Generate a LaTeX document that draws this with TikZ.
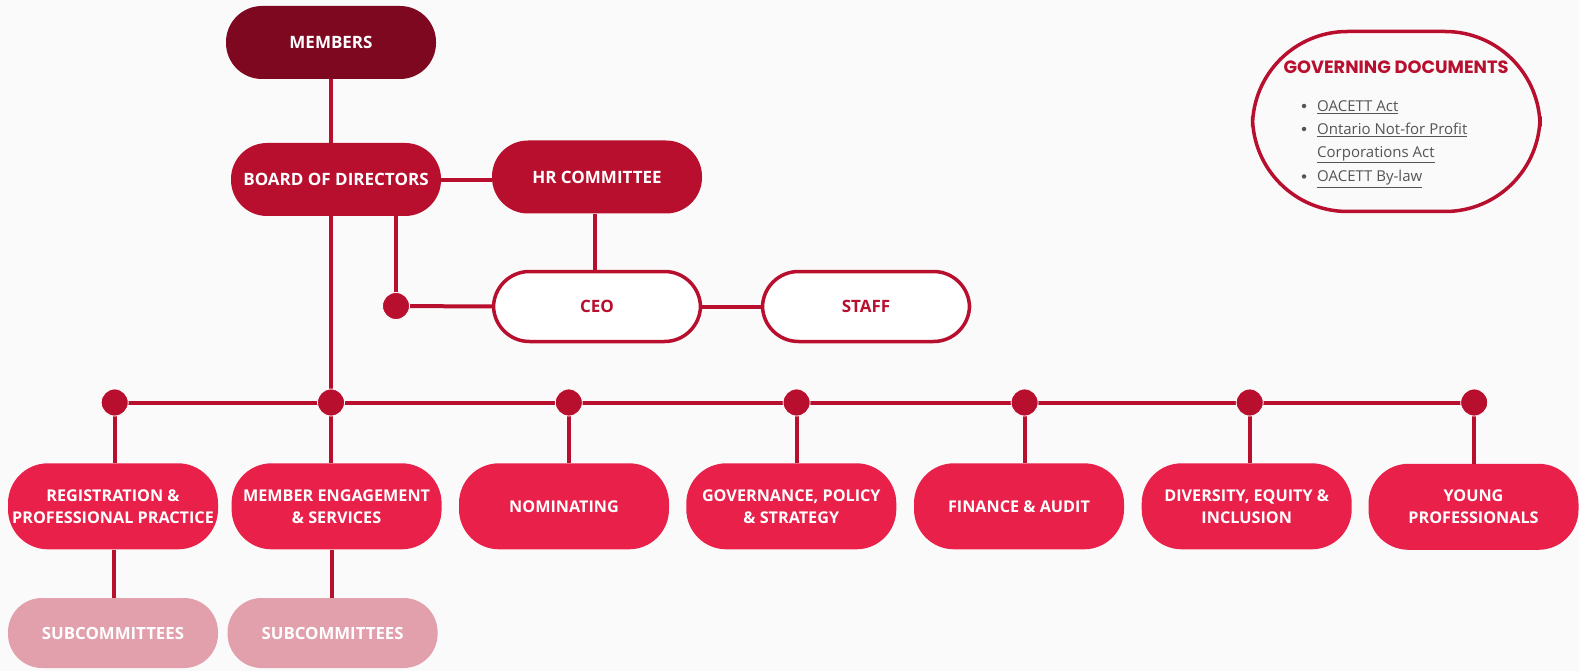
\documentclass[tikz,border=0pt]{standalone}
\usepackage{fontspec}
\setmainfont{Open Sans}
\newfontfamily\headfont{Poppins}
\definecolor{cCrim}{HTML}{B80F2F}
\definecolor{cMaroon}{HTML}{7D0820}
\definecolor{cRose}{HTML}{E8204A}
\definecolor{cSub}{HTML}{E2A0AC}
\definecolor{cGray}{HTML}{555555}
\definecolor{cBg}{HTML}{FAFAFA}
\begin{document}
\begin{tikzpicture}[x=1pt,y=-1pt,
  topbox/.style={rectangle, rounded corners=36pt, minimum width=210pt, minimum height=73pt,
    inner sep=0pt, align=center, text=white, font=\bfseries\fontsize{17}{20}\selectfont},
  outbox/.style={topbox, fill=white, draw=cCrim, line width=3.5pt, text=cCrim, minimum width=207pt, minimum height=70pt},
  combox/.style={rectangle, rounded corners=40pt, minimum width=210pt, minimum height=86pt,
    inner sep=0pt, align=center, fill=cRose, text=white, font=\bfseries\fontsize{16.2}{22}\selectfont},
  subbox/.style={combox, fill=cSub, minimum height=70pt, rounded corners=34pt, font=\bfseries\fontsize{16.8}{22}\selectfont},
  conn/.style={draw=cCrim, line width=4pt},
  dot/.style={circle, fill=cCrim, draw=white, line width=0.8pt, minimum size=27pt, inner sep=0pt},
  docitem/.style={anchor=base west, inner sep=0pt, text=cGray, font=\fontsize{15}{18}\selectfont}
]
\fill[cBg] (0,0) rectangle (1579,671);
\useasboundingbox (0,0) rectangle (1579,671);

% top nodes
\node[topbox, fill=cMaroon] (members) at (331,42.5) {MEMBERS};
\node[topbox, fill=cCrim] (board) at (336,179.5) {BOARD OF DIRECTORS};
\node[topbox, fill=cCrim] (hr) at (597,177) {HR COMMITTEE};
\node[outbox] (ceo) at (597,306.5) {CEO};
\node[outbox] (staff) at (866,306.5) {STAFF};

% committees
\node[combox] (reg) at (113,506.3) {REGISTRATION \&\\PROFESSIONAL PRACTICE};
\node[combox] (meng) at (336.6,506.3) {MEMBER ENGAGEMENT\\\& SERVICES};
\node[combox] (nom) at (564,506.3) {NOMINATING};
\node[combox] (gov) at (791.3,506.3) {GOVERNANCE, POLICY\\\& STRATEGY};
\node[combox] (fin) at (1019,506.3) {FINANCE \& AUDIT};
\node[combox] (div) at (1246.7,506.3) {DIVERSITY, EQUITY \&\\INCLUSION};
\node[combox] (young) at (1473.5,506.8) {YOUNG\\PROFESSIONALS};

\node[subbox] (sub1) at (113,633) {SUBCOMMITTEES};
\node[subbox] (sub2) at (332.6,633) {SUBCOMMITTEES};

% junction coordinates
\coordinate (d0) at (396,306);
\coordinate (b1) at (114.7,402.5);
\coordinate (b2) at (331,402.5);
\coordinate (b3) at (568.8,402.5);
\coordinate (b4) at (796.6,402.5);
\coordinate (b5) at (1024.6,402.5);
\coordinate (b6) at (1249.7,402.5);
\coordinate (b7) at (1474.2,402.5);

% connectors
\draw[conn] (members.south) -- (members.south |- board.north);
\draw[conn] (board.east |- 0,180) -- (hr.west |- 0,180);
\draw[conn] (hr.south -| 595,0) -- (ceo.north -| 595,0);
\draw[conn] (d0 |- board.south) -- (d0);
\draw[conn] (d0) -- (ceo.west);
\draw[conn] (ceo.east) -- (staff.west);
\draw[conn] (b2 |- board.south) -- (b2);
\draw[conn] (b1) -- (b7);
\draw[conn] (b1) -- (b1 |- reg.north);
\draw[conn] (b2) -- (b2 |- meng.north);
\draw[conn] (b3) -- (b3 |- nom.north);
\draw[conn] (b4) -- (b4 |- gov.north);
\draw[conn] (b5) -- (b5 |- fin.north);
\draw[conn] (b6) -- (b6 |- div.north);
\draw[conn] (b7) -- (b7 |- young.north);
\draw[conn] (reg.south -| 113.5,0) -- (sub1.north -| 113.5,0);
\draw[conn] (meng.south -| 331.5,0) -- (sub2.north -| 331.5,0);

% dots
\node[dot] (j0) at (d0) {};
\node[dot] (j1) at (b1) {};
\node[dot] (j2) at (b2) {};
\node[dot] (j3) at (b3) {};
\node[dot] (j4) at (b4) {};
\node[dot] (j5) at (b5) {};
\node[dot] (j6) at (b6) {};
\node[dot] (j7) at (b7) {};

% governing documents
\draw[cCrim, line width=3.5pt, rounded corners=95pt] (1252.5,31.5) rectangle (1540,211.5);
\node[font=\headfont\bfseries\fontsize{17.8}{20}\selectfont, text=cCrim, inner sep=0pt] (govhead) at (1396,67) {GOVERNING DOCUMENTS};
\node[docitem] (it1) at (1317,111.5) {\underline{OACETT Act}};
\node[docitem] (it2) at (1317,134.5) {\underline{Ontario Not-for Profit}};
\node[docitem] (it2b) at (1317,157.5) {\underline{Corporations Act}};
\node[docitem] (it3) at (1317,182) {\underline{OACETT By-law}};
\node[circle, fill=cGray, inner sep=0pt, minimum size=4.5pt] (bl1) at (1304,106) {};
\node[circle, fill=cGray, inner sep=0pt, minimum size=4.5pt] (bl2) at (1304,129) {};
\node[circle, fill=cGray, inner sep=0pt, minimum size=4.5pt] (bl3) at (1304,176.5) {};
\end{tikzpicture}
\end{document}
